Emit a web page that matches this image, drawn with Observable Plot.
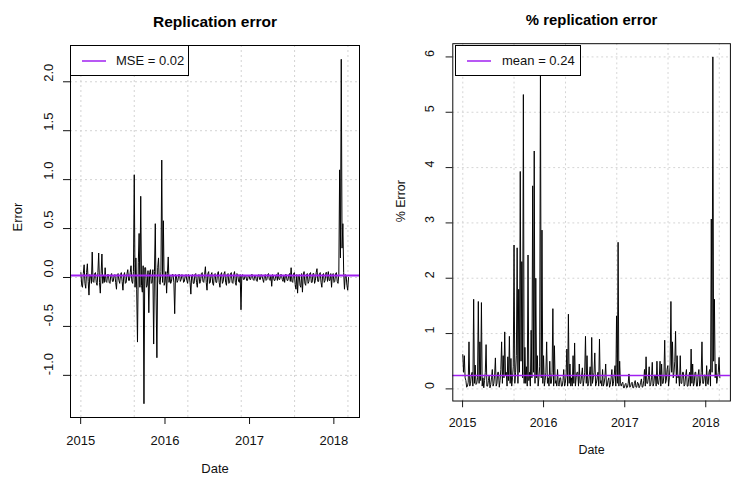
<!DOCTYPE html>
<html>
<head>
<meta charset="utf-8">
<script src="https://cdn.jsdelivr.net/npm/d3@7"></script>
<script src="https://cdn.jsdelivr.net/npm/@observablehq/plot@0.6"></script>
<style>
  html, body { margin: 0; padding: 0; background: #fff; }
  body { width: 735px; height: 481px; overflow: hidden; position: relative; font-family: "Liberation Sans", Arial, sans-serif; }
  .panel { position: absolute; top: 0; }
  .legend { position: absolute; box-sizing: border-box; border: 1px solid #000; background: #fff; font-size: 13px; color: #111; }
  .legend svg { position: absolute; }
  .legend .lab { position: absolute; white-space: nowrap; line-height: 13px; }
</style>
</head>
<body>
<div id="left" class="panel" style="left:0px"></div>
<div id="right" class="panel" style="left:370px"></div>
<div class="legend" style="left:70px; top:45px; width:119px; height:31px;">
  <svg style="left:10px; top:13px;" width="26" height="4"><line x1="1" x2="25" y1="2" y2="2" stroke="#A020F0" stroke-width="1.5"/></svg>
  <span class="lab" style="left:45px; top:8px;">MSE = 0.02</span>
</div>
<div class="legend" style="left:455px; top:45px; width:126px; height:31px;">
  <svg style="left:10px; top:13px;" width="26" height="4"><line x1="1" x2="25" y1="2" y2="2" stroke="#A020F0" stroke-width="1.5"/></svg>
  <span class="lab" style="left:46px; top:8px;">mean = 0.24</span>
</div>
<script>
// weekly sampling of the daily series: each week has a first reading (A) and a mid-week reading (B)
const seriesStart = "2015-01-02";
const stepDays = 7;

// Replication error (left panel)
const errA = [
  0.05, -0.1, 0.13, -0.11, 0.14, -0.18, 0.02, 0.26, -0.05, 0.05,
  -0.08, 0.25, -0.16, 0.24, 0.02, 0.1, -0.05, 0.03, -0.06, 0.04,
  -0.04, 0.03, -0.12, 0.04, -0.06, 0.05, -0.13, 0.05, -0.05, 0.08,
  -0.03, 0.12, -0.06, 1.05, 0.2, -0.66, 0.45, 0.83, -0.15, -1.29,
  0.1, -0.08, -0.36, 0.08, -0.05, -0.68, 0.55, -0.82, 0.2, -0.07,
  1.2, 0.58, -0.05, -0.16, 0.21, 0.02, -0.04, 0.03, -0.37, 0.02,
  -0.03, 0.03, -0.02, 0.02, -0.04, 0.03, -0.06, 0.02, -0.17, 0.03,
  -0.06, 0.04, -0.1, 0.03, -0.04, 0.05, -0.05, 0.11, -0.13, 0.06,
  -0.05, 0.05, -0.08, 0.04, -0.05, 0.06, -0.1, 0.05, -0.04, 0.06,
  -0.08, 0.04, -0.05, 0.05, -0.06, 0.06, -0.08, 0.03, -0.05, -0.33,
  0.03, -0.02, 0.02, -0.03, 0.02, -0.02, 0.03, -0.03, 0.02, -0.04,
  0.03, -0.02, 0.02, -0.05, 0.03, -0.02, 0.04, -0.03, -0.09, 0.02,
  -0.03, 0.03, 0.05, -0.02, 0.03, -0.04, -0.05, 0.03, -0.03, 0.04,
  0.1, -0.05, 0.05, -0.12, -0.16, 0.03, -0.1, -0.15, 0.06, -0.08,
  0.04, -0.04, 0.05, -0.05, 0.04, -0.03, 0.09, -0.04, 0.05, -0.1,
  0.04, -0.03, 0.05, 0.06, -0.03, -0.1, 0.04, -0.04, 0.05, -0.06,
  1.1, 2.23, 0.55, -0.12, 0.02, -0.13
];
const errB = [
  -0.08, 0.04, -0.06, 0.05, -0.04, 0.03, -0.06, -0.04, 0.04, -0.05,
  0.05, -0.05, 0.04, -0.06, -0.05, -0.04, 0.03, -0.05, 0.02, -0.04,
  0.02, -0.05, 0.03, -0.03, 0.03, -0.04, 0.02, -0.06, 0.04, -0.03,
  0.05, -0.04, 0.06, -0.1, -0.12, 0.15, -0.1, -0.08, 0.12, 0.1,
  -0.1, 0.07, 0.05, -0.06, 0.08, 0.06, -0.2, 0.1, -0.05, 0.06,
  -0.05, -0.08, 0.06, 0.04, -0.05, -0.06, 0.03, -0.05, 0.03, -0.05,
  0.03, -0.04, 0.03, -0.05, 0.02, -0.03, 0.03, -0.05, 0.02, -0.06,
  0.03, -0.05, 0.02, -0.06, 0.04, -0.04, 0.03, -0.05, 0.04, -0.06,
  0.03, -0.06, 0.03, -0.05, 0.04, -0.05, 0.03, -0.06, 0.04, -0.05,
  0.03, -0.06, 0.04, -0.05, 0.03, -0.05, 0.04, -0.04, 0.03, 0.02,
  -0.02, 0.02, -0.03, 0.02, -0.02, 0.03, -0.02, 0.02, -0.03, 0.02,
  -0.02, 0.03, -0.02, 0.02, -0.03, 0.03, -0.02, 0.02, 0.03, -0.03,
  0.02, -0.03, -0.02, 0.03, -0.02, 0.02, 0.03, -0.03, 0.02, -0.04,
  -0.04, 0.04, -0.07, 0.03, 0.02, -0.08, 0.04, 0.02, -0.06, 0.03,
  -0.06, 0.04, -0.05, 0.04, -0.06, 0.05, -0.04, 0.04, -0.05, 0.03,
  -0.05, 0.05, -0.04, -0.03, 0.04, 0.03, -0.05, 0.04, -0.04, 0.03,
  0.2, 0.3, 0.05, 0.03, -0.08, 0.0
];

// % replication error (right panel)
const pctA = [
  0.62, 0.6, 0.15, 0.05, 0.85, 0.1, 0.3, 1.62, 0.43, 0.1,
  1.58, 0.85, 1.56, 0.2, 0.15, 0.8, 0.05, 0.25, 0.08, 0.35,
  0.1, 0.56, 0.1, 0.3, 0.15, 0.85, 0.6, 1.03, 0.3, 0.58,
  0.95, 0.55, 0.2, 2.6, 0.3, 2.55, 1.8, 3.93, 2.3, 5.32,
  0.75, 0.4, 2.42, 0.3, 1.06, 3.67, 4.3, 2.0, 0.6, 0.2,
  5.85, 2.87, 0.6, 0.15, 0.85, 0.2, 0.5, 0.1, 1.45, 0.78,
  0.15, 0.35, 0.05, 0.2, 0.05, 0.35, 0.1, 0.72, 1.35, 0.45,
  0.2, 0.6, 0.83, 0.2, 0.3, 0.45, 0.1, 0.38, 0.15, 0.95,
  0.6, 0.1, 0.4, 0.93, 0.2, 0.65, 0.1, 0.3, 0.9, 0.15,
  0.35, 0.1, 0.45, 0.05, 0.2, 0.08, 0.35, 0.1, 0.42, 1.32,
  2.65, 0.5, 0.05, 0.12, 0.02, 0.1, 0.03, 0.27, 0.04, 0.12,
  0.02, 0.15, 0.03, 0.1, 0.05, 0.18, 0.04, 0.35, 0.58, 0.1,
  0.4, 0.08, 0.48, 0.1, 0.25, 0.5, 0.08, 0.5, 0.45, 0.1,
  0.88, 0.15, 0.42, 0.2, 1.58, 0.85, 0.3, 1.04, 0.6, 0.25,
  0.6, 0.1, 0.3, 0.08, 0.35, 0.05, 0.3, 0.72, 0.45, 0.1,
  0.3, 0.05, 0.35, 0.1, 0.85, 0.1, 0.25, 0.42, 0.08, 0.35,
  3.07, 6.0, 1.62, 0.45, 0.2, 0.57
];
const pctB = [
  0.3, 0.2, 0.03, 0.12, 0.05, 0.25, 0.05, 0.1, 0.08, 0.2,
  0.1, 0.15, 0.05, 0.02, 0.3, 0.05, 0.15, 0.02, 0.2, 0.05,
  0.25, 0.05, 0.3, 0.03, 0.35, 0.1, 0.2, 0.25, 0.05, 0.15,
  0.1, 0.05, 0.4, 0.1, 0.6, 0.1, 0.3, 0.5, 0.2, 0.1,
  0.1, 0.05, 0.15, 0.05, 0.2, 0.3, 0.1, 0.2, 0.05, 0.4,
  0.2, 0.1, 0.05, 0.3, 0.1, 0.05, 0.1, 0.3, 0.05, 0.1,
  0.05, 0.08, 0.2, 0.05, 0.15, 0.05, 0.25, 0.05, 0.1, 0.05,
  0.05, 0.1, 0.05, 0.3, 0.05, 0.1, 0.25, 0.05, 0.3, 0.1,
  0.05, 0.25, 0.05, 0.1, 0.3, 0.05, 0.2, 0.05, 0.1, 0.05,
  0.05, 0.2, 0.05, 0.15, 0.03, 0.2, 0.05, 0.25, 0.05, 0.1,
  0.05, 0.1, 0.1, 0.02, 0.08, 0.02, 0.1, 0.03, 0.1, 0.02,
  0.1, 0.03, 0.12, 0.02, 0.12, 0.03, 0.15, 0.05, 0.1, 0.2,
  0.05, 0.2, 0.05, 0.25, 0.05, 0.1, 0.2, 0.05, 0.1, 0.25,
  0.1, 0.35, 0.05, 0.45, 0.3, 0.2, 0.5, 0.1, 0.2, 0.05,
  0.1, 0.3, 0.05, 0.25, 0.05, 0.2, 0.05, 0.1, 0.05, 0.3,
  0.05, 0.25, 0.05, 0.3, 0.1, 0.25, 0.05, 0.1, 0.3, 0.05,
  0.3, 0.5, 0.2, 0.1, 0.3, 0.2
];

const mseValue = 0.02;
const meanValue = 0.24;

const xTickDates = ["2015-01-01", "2016-01-01", "2017-01-01", "2018-01-01"];
const xTickLabels = ["2015", "2016", "2017", "2018"];
const gridDates = ["2015-01-02", "2015-08-21", "2016-04-09", "2016-11-26", "2017-07-15", "2018-03-03"];
const errTicks = [-1.0, -0.5, 0.0, 0.5, 1.0, 1.5, 2.0];
const errTickLabels = ["-1.0", "-0.5", "0.0", "0.5", "1.0", "1.5", "2.0"];
const pctTicks = [0, 1, 2, 3, 4, 5, 6];
const pctTickLabels = ["0", "1", "2", "3", "4", "5", "6"];
const xDomain = ["2014-11-18", "2018-04-22"];

const parse = d3.utcParse("%Y-%m-%d");
const start = parse(seriesStart);
function interleave(A, B) {
  const out = [];
  A.forEach((a, i) => {
    const d0 = d3.utcDay.offset(start, stepDays * i);
    out.push({date: d0, value: a});
    out.push({date: d3.utcHour.offset(d0, stepDays * 12), value: B[i]});
  });
  return out;
}
const errData = interleave(errA, errB);
const pctData = interleave(pctA, pctB);

function padded(values) {
  const [lo, hi] = d3.extent(values);
  const p = (hi - lo) * 0.04;
  return [lo - p, hi + p];
}

function panel({data, refValue, refWidth, ticks, tickLabels, title, ylabel, width, marginLeft, marginRight, labelDx, ylabDx}) {
  const xt = xTickDates.map(parse);
  const xlab = new Map(xt.map((d, i) => [+d, xTickLabels[i]]));
  const ylab = new Map(ticks.map((d, i) => [d, tickLabels[i]]));
  return Plot.plot({
    width, height: 481,
    marginLeft, marginRight, marginTop: 45, marginBottom: 64,
    style: {fontFamily: '"Liberation Sans", Arial, sans-serif', fontSize: "13px", color: "#111", background: "transparent"},
    x: {type: "utc", domain: xDomain.map(parse)},
    y: {domain: padded(data.map(d => d.value))},
    marks: [
      Plot.ruleY(ticks, {stroke: "#d3d3d3", strokeDasharray: "2,3"}),
      Plot.ruleX(gridDates.map(parse), {stroke: "#d3d3d3", strokeDasharray: "2,3"}),
      Plot.lineY(data, {x: "date", y: "value", stroke: "#000", strokeWidth: 1}),
      Plot.ruleY([refValue], {stroke: "#A020F0", strokeWidth: refWidth}),
      Plot.frame({stroke: "#000"}),
      Plot.axisX(xt, {tickSize: 7, tickPadding: 11, tickFormat: d => xlab.get(+d), fontSize: 13, label: null}),
      Plot.axisY(ticks, {tickSize: 7, tickFormat: () => "", label: null}),
      Plot.text(ticks, {y: d => d, frameAnchor: "left", dx: labelDx, rotate: -90, text: d => ylab.get(d), fontSize: 13, fill: "#111"}),
      Plot.text([ylabel], {frameAnchor: "left", dx: ylabDx, rotate: -90, text: d => d, fontSize: 13, fill: "#111"}),
      Plot.text(["Date"], {frameAnchor: "bottom", dy: 55, text: d => d, fontSize: 13, fill: "#111"}),
      Plot.text([title], {frameAnchor: "top", dy: -30, text: d => d, fontSize: 15.5, fontWeight: "bold", fill: "#000"})
    ]
  });
}

document.getElementById("left").append(panel({
  data: errData, refValue: mseValue, refWidth: 2, ticks: errTicks, tickLabels: errTickLabels,
  title: "Replication error", ylabel: "Error",
  width: 370, marginLeft: 70, marginRight: 11, labelDx: -22, ylabDx: -53
}));
document.getElementById("right").append(panel({
  data: pctData, refValue: meanValue, refWidth: 1.6, ticks: pctTicks, tickLabels: pctTickLabels,
  title: "% replication error", ylabel: "% Error",
  width: 380, marginLeft: 85.7, marginRight: 5.3, labelDx: -24, ylabDx: -54
}));
</script>
</body>
</html>
